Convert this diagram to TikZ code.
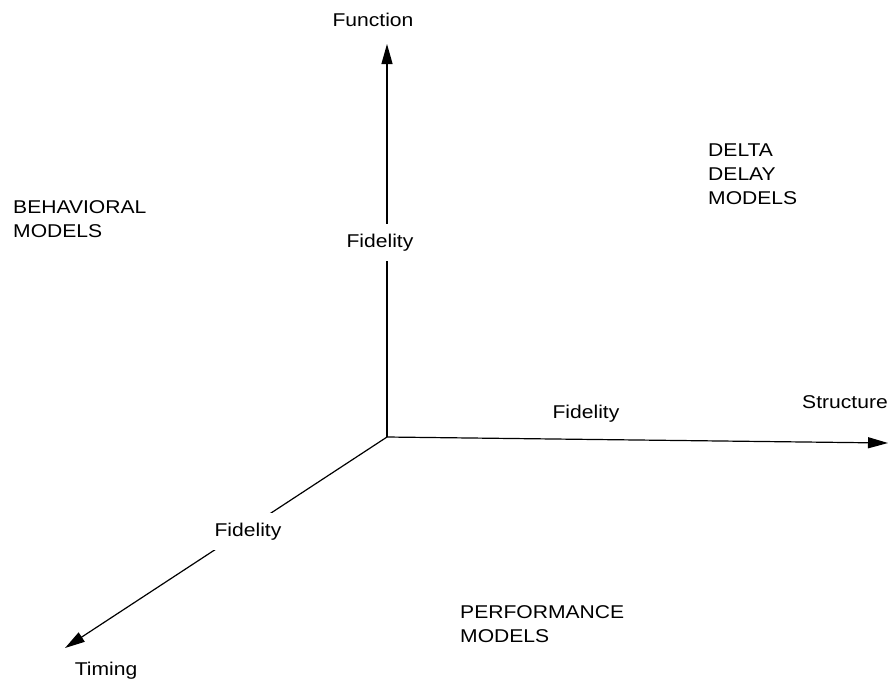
\documentclass[tikz,border=0pt]{standalone}
\usepackage{fontspec}
\setmainfont{Liberation Sans}[FakeStretch=1.14]
\usetikzlibrary{arrows.meta}
\begin{document}
\begin{tikzpicture}[x=1pt,y=-1pt,
  axis/.style={line width=1.2pt,-{Triangle[length=20pt,width=11pt]}},
  lbl/.style={inner sep=0pt,font=\fontsize{18.5pt}{24pt}\selectfont},
  onaxis/.style={lbl,fill=white,inner xsep=2pt,inner ysep=10pt},
  region/.style={lbl,align=left,anchor=north west}]
  \useasboundingbox (0,0) rectangle (891,681);
  % axes meeting at the origin
  \coordinate (o) at (387,437);
  \coordinate (fn) at (387,44);
  \coordinate (st) at (888,443);
  \coordinate (tm) at (65,648);
  \draw[axis] (o) -- (fn);
  \draw[axis] (o) -- (st);
  \draw[axis] (o) -- (tm);
  % axis names
  \node[lbl,anchor=base] (lfn) at (373,26) {Function};
  \node[lbl,anchor=base east] (lst) at (888,408) {Structure};
  \node[lbl,anchor=base] (ltm) at (106,675) {Timing};
  % fidelity along each axis (the vertical and diagonal ones interrupt their axis)
  \node[onaxis,anchor=base] (ffn) at (380,247) {Fidelity};
  \node[lbl,anchor=base] (fst) at (586,418) {Fidelity};
  \node[onaxis,anchor=base] (ftm) at (248,536) {Fidelity};
  % model classes
  \node[region] (beh) at (13,200) {BEHAVIORAL\\MODELS};
  \node[region] (dd) at (708,144) {DELTA\\DELAY\\MODELS};
  \node[region] (perf) at (460,605) {PERFORMANCE\\MODELS};
\end{tikzpicture}
\end{document}
